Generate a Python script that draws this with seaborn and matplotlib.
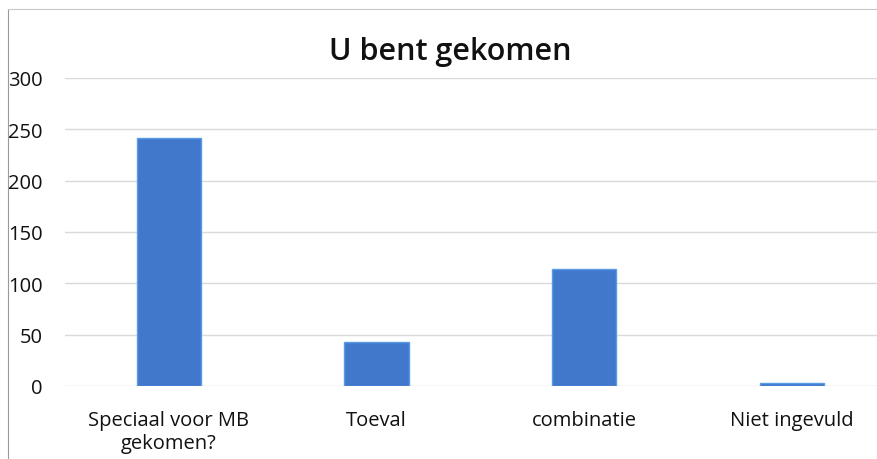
import matplotlib
matplotlib.use("Agg")
import matplotlib.pyplot as plt
import seaborn as sns
import pandas as pd
from matplotlib.lines import Line2D

# gegevens uit de grafiek
categorieen = ["Speciaal voor MB\ngekomen?", "Toeval", "combinatie", "Niet ingevuld"]
aantallen = [242, 43, 114, 3]
y_ticks = [0, 50, 100, 150, 200, 250, 300]

sns.set_theme(style="white")
plt.rcParams['font.family'] = ['Open Sans', 'DejaVu Sans']

df = pd.DataFrame({"categorie": categorieen, "aantal": aantallen})

W, H = 877, 460
fig = plt.figure(figsize=(W / 100, H / 100), dpi=100)
ax = fig.add_axes([65 / W, (H - 387) / H, (W - 65) / W, 308 / H])

sns.barplot(data=df, x="categorie", y="aantal", ax=ax, color="#4178CC",
            width=0.31, edgecolor="#5B9BE6", linewidth=1, saturation=1)

ax.set_ylim(0, 300)
ax.set_xlim(-0.5, -0.5 + (W - 65) / 207.7)
ax.set_yticks(y_ticks)
ax.yaxis.grid(True, color="#DADADA", linewidth=1)
ax.set_axisbelow(True)
for s in ax.spines.values():
    s.set_visible(False)
ax.tick_params(axis="both", length=0, labelsize=14.5, colors="#111111")
ax.tick_params(axis="x", pad=17)
ax.tick_params(axis="y", pad=16)
ax.set_xlabel("")
ax.set_ylabel("")

fig.text(0.513, (H - 52) / H, "U bent gekomen", ha="center", va="center",
         fontsize=22, fontweight="semibold", color="#111111")

# rand van de grafiek (kader)
fig.add_artist(Line2D([8 / W, 8 / W], [0, (H - 10) / H], color="#9a9a9a", linewidth=0.8))
fig.add_artist(Line2D([8 / W, 1], [(H - 10) / H, (H - 10) / H], color="#c8c8c8", linewidth=0.8))

fig.savefig("out.png", dpi=100)
